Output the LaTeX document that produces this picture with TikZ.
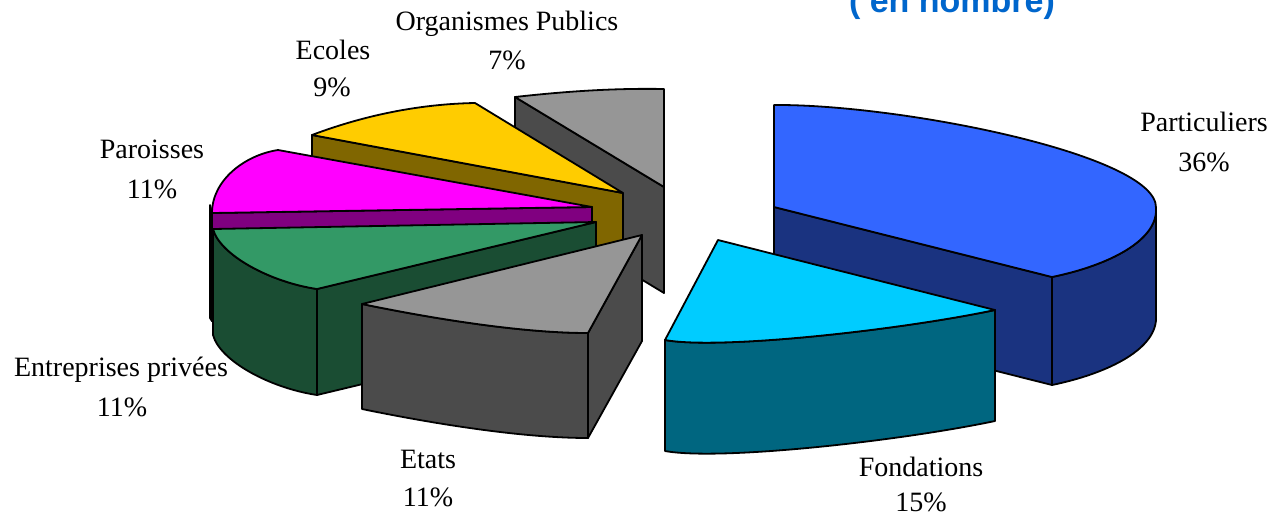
\documentclass[tikz,border=0pt]{standalone}
\usepackage{fontspec}
\setmainfont{Liberation Serif}
\newfontfamily\titlefont{Liberation Sans}

\definecolor{titleblue}{RGB}{0,102,204}
\definecolor{partTop}{RGB}{51,102,255}
\definecolor{partSide}{RGB}{26,51,128}
\definecolor{fondTop}{RGB}{0,204,255}
\definecolor{fondSide}{RGB}{0,102,128}
\definecolor{greyTop}{RGB}{150,150,150}
\definecolor{greySide}{RGB}{75,75,75}
\definecolor{entrTop}{RGB}{51,153,102}
\definecolor{entrSide}{RGB}{26,77,51}
\definecolor{parTop}{RGB}{255,0,255}
\definecolor{parSide}{RGB}{128,0,128}
\definecolor{ecoTop}{RGB}{255,204,0}
\definecolor{ecoSide}{RGB}{128,102,0}

\begin{document}
\begin{tikzpicture}[
    x=1pt, y=-1pt,
    face/.style={draw=black, line width=1.8pt, line join=round},
    lbl/.style={font=\fontsize{28}{32}\selectfont, anchor=base},
    title/.style={font=\titlefont\bfseries\fontsize{34}{34}\selectfont, text=titleblue, anchor=base}
]
\useasboundingbox (0,0) rectangle (1287,515);

% Title (cut by the top edge)
\node[title] (title) at (952,12.7) {( en nombre)};

% Organismes Publics
\draw[face, fill=greySide] (515,97) -- (664,187) -- (664,293) -- (515,203) -- cycle;
\draw[face, fill=greyTop] (664,187) -- (515,97) .. controls (560,92) and (610,88) .. (664,89) -- cycle;

% Ecoles
\draw[face, fill=ecoSide] (312,135) -- (623,193) -- (623,301) -- (312,243) -- cycle;
\draw[face, fill=ecoTop] (623,193) -- (312,135) .. controls (365,115) and (420,104) .. (475,103) -- cycle;

% Paroisses
\draw[face, fill=parSide] (210,205) -- (212,213) -- (212,321) -- (210,318) -- cycle;
\draw[face, fill=parSide] (212,213) -- (592,207) -- (592,315) -- (212,321) -- cycle;
\draw[face, fill=parTop] (592,207) -- (278,150) .. controls (245,155) and (212,180) .. (212,213) -- cycle;

% Entreprises privees
\draw[face, fill=entrSide] (213,229) .. controls (220,255) and (270,282) .. (317,289)
    -- (317,395) .. controls (270,388) and (220,361) .. (213,335) -- cycle;
\draw[face, fill=entrSide] (317,289) -- (596,222) -- (596,328) -- (317,395) -- cycle;
\draw[face, fill=entrTop] (596,222) -- (213,229) .. controls (220,255) and (270,282) .. (317,289) -- cycle;

% Etats
\draw[face, fill=greySide] (642,235) -- (588,333) -- (588,438) -- (642,341) -- cycle;
\draw[face, fill=greySide] (362,304) .. controls (430,318) and (520,333) .. (588,333)
    -- (588,438) .. controls (520,438) and (430,423) .. (362,409) -- cycle;
\draw[face, fill=greyTop] (642,235) -- (362,304) .. controls (430,318) and (520,333) .. (588,333) -- cycle;

% Particuliers
\draw[face, fill=partSide] (1156,208) .. controls (1158,240) and (1110,265) .. (1052,277)
    -- (1052,385) .. controls (1110,373) and (1158,348) .. (1156,316) -- cycle;
\draw[face, fill=partSide] (774,207) -- (1052,277) -- (1052,385) -- (774,315) -- cycle;
\draw[face, fill=partTop] (774,207) -- (774,105) .. controls (900,104) and (1158,155) .. (1156,208)
    .. controls (1158,240) and (1110,265) .. (1052,277) -- cycle;

% Fondations
\draw[face, fill=fondSide] (665,340) .. controls (720,350) and (900,330) .. (995,310)
    -- (995,421) .. controls (900,441) and (720,461) .. (665,451) -- cycle;
\draw[face, fill=fondTop] (718,240) -- (665,340) .. controls (720,350) and (900,330) .. (995,310) -- cycle;

% Labels
\node[lbl] (orgName) at (507,30.7) {Organismes Publics};
\node[lbl] (orgPct) at (507,69.3) {7\%};
\node[lbl] (ecoName) at (333,59.3) {Ecoles};
\node[lbl] (ecoPct) at (332,96.7) {9\%};
\node[lbl] (parName) at (152,158.3) {Paroisses};
\node[lbl] (parPct) at (152,198.3) {11\%};
\node[lbl] (entrName) at (121,376.7) {Entreprises privées};
\node[lbl] (entrPct) at (122,416.7) {11\%};
\node[lbl] (etatName) at (428,468) {Etats};
\node[lbl] (etatPct) at (428,506) {11\%};
\node[lbl] (fondName) at (921,476) {Fondations};
\node[lbl] (fondPct) at (921,511) {15\%};
\node[lbl] (partName) at (1204,131.7) {Particuliers};
\node[lbl] (partPct) at (1204,171.7) {36\%};

\end{tikzpicture}
\end{document}
